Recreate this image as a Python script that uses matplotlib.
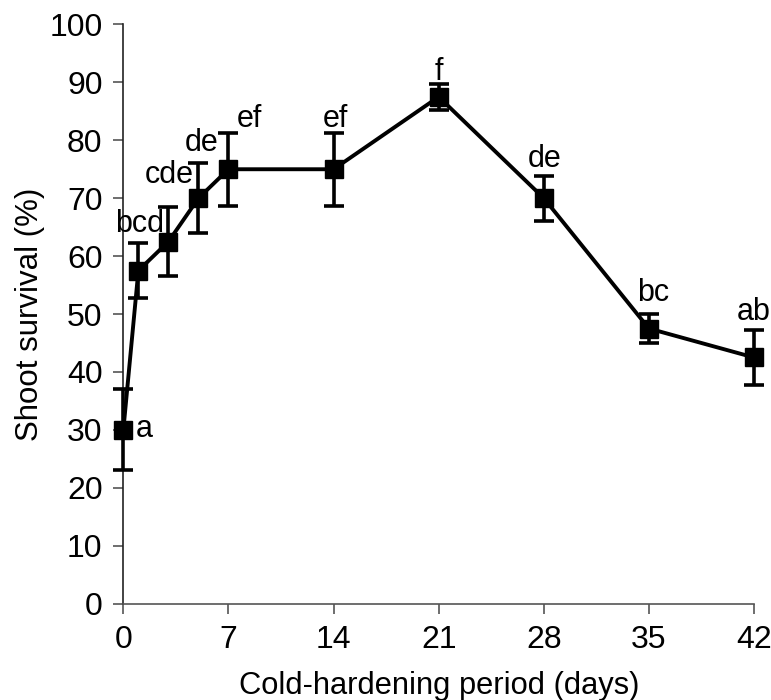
import matplotlib
matplotlib.use("Agg")
import matplotlib.pyplot as plt

plt.rcParams['font.family'] = ['Liberation Sans', 'DejaVu Sans']

days = [0, 1, 3, 5, 7, 14, 21, 28, 35, 42]
survival = [30, 57.5, 62.5, 70, 75, 75, 87.5, 70, 47.5, 42.5]
err = [7, 4.7, 6, 6, 6.3, 6.3, 2.3, 3.9, 2.5, 4.8]
letters = ["a", "bcd", "cde", "de", "ef", "ef", "f", "de", "bc", "ab"]
letter_x = [1.4, 1.07, 3.07, 5.23, 8.4, 14.13, 21.0, 28.07, 35.27, 42.0]
letter_y = [28.8, 64.2, 72.7, 78.1, 82.3, 82.3, 90.4, 75.4, 52.2, 49.0]
xticks = [0, 7, 14, 21, 28, 35, 42]
yticks = list(range(0, 101, 10))

fig = plt.figure(figsize=(7.71, 7.0), dpi=100)
ax = fig.add_axes([0.160, 0.1376, 0.818, 0.8275])

ax.errorbar(days, survival, yerr=err, color='black', lw=2.8, marker='s',
            markersize=13, capsize=7.5, capthick=2.6, elinewidth=2.6,
            clip_on=False, zorder=3)

for lx, ly, t in zip(letter_x, letter_y, letters):
    ax.text(lx, ly, t, ha='center', va='baseline', fontsize=22, color='black',
            zorder=4)

ax.set_xlim(0, 42)
ax.set_ylim(0, 100)
ax.set_xticks(xticks)
ax.set_yticks(yticks)
ax.tick_params(axis='both', direction='out', length=7, width=1.2,
               labelsize=23, color='#555555')
ax.tick_params(axis='y', pad=8)
ax.tick_params(axis='x', pad=8)
for s in ['top', 'right']:
    ax.spines[s].set_visible(False)
for s in ['left', 'bottom']:
    ax.spines[s].set_linewidth(1.2)
ax.spines['left'].set_color('#222222')
ax.spines['bottom'].set_color('#555555')

ax.set_xlabel('Cold-hardening period (days)', fontsize=22.2, labelpad=12)
ax.set_ylabel('Shoot survival (%)', fontsize=22.5, labelpad=3)

fig.savefig('out.png', dpi=100)
